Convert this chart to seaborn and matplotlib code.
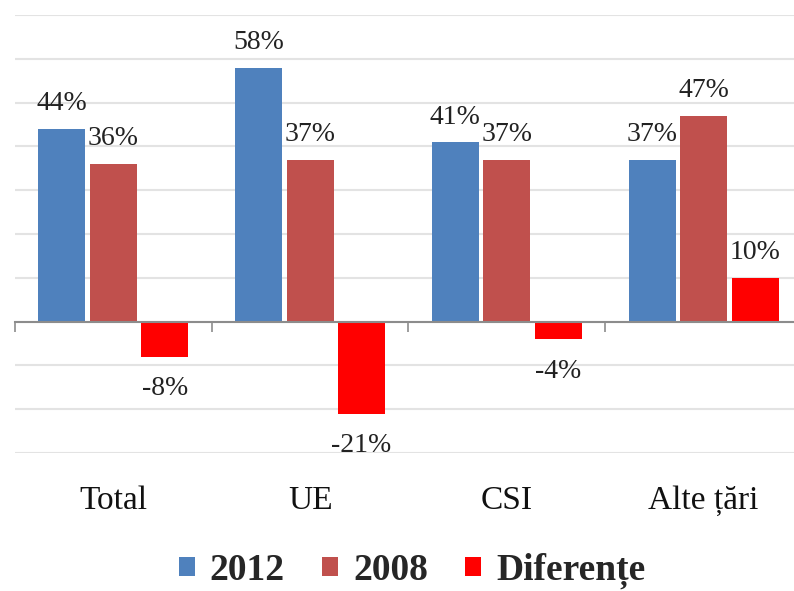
import matplotlib
matplotlib.use("Agg")
import matplotlib.pyplot as plt
import seaborn as sns
import pandas as pd
from matplotlib.ticker import MultipleLocator, FixedLocator

categories = ["Total", "UE", "CSI", "Alte țări"]
series_names = ["2012", "2008", "Diferențe"]
values_2012 = [44, 58, 41, 37]
values_2008 = [36, 37, 37, 47]
values_diff = [-8, -21, -4, 10]
colors = {"2012": "#4F81BD", "2008": "#C0504D", "Diferențe": "#FF0000"}

rows = []
for name, vals in zip(series_names, [values_2012, values_2008, values_diff]):
    for c, v in zip(categories, vals):
        rows.append({"cat": c, "series": name, "val": v})
df = pd.DataFrame(rows)

sns.set_theme(style="white")
plt.rcParams["font.family"] = ["Liberation Serif", "DejaVu Serif"]

fig = plt.figure(figsize=(7.94, 5.91), dpi=100)
ax = fig.add_axes([15 / 794, (591 - 453) / 591, 787 / 794, 438 / 591])

sns.barplot(data=df, x="cat", y="val", hue="series", order=categories,
            hue_order=series_names, palette=colors, width=0.785, gap=0.09,
            saturation=1, ax=ax, edgecolor="none", linewidth=0)

for cont in ax.containers:
    vals = [b.get_height() for b in cont]
    pos_labels = [f"{v:.0f}%" if v >= 0 else "" for v in vals]
    neg_labels = [f"{v:.0f}%" if v < 0 else "" for v in vals]
    ax.bar_label(cont, labels=pos_labels, padding=9, fontsize=20, color="#222222")
    ax.bar_label(cont, labels=neg_labels, padding=14, fontsize=20, color="#222222")

ax.set_ylim(-30, 70)
ax.set_xlim(-0.5, 3.5)
ax.yaxis.set_major_locator(MultipleLocator(10))
ax.grid(axis="y", color="#E3E3E3", linewidth=1.5)
ax.set_axisbelow(True)
ax.set_yticklabels([])
ax.tick_params(axis="y", length=0)
ax.set_xlabel("")
ax.set_ylabel("")

for s in ["top", "right", "left"]:
    ax.spines[s].set_visible(False)
ax.spines["bottom"].set_position(("data", 0))
ax.spines["bottom"].set_color("#8C8C8C")
ax.spines["bottom"].set_linewidth(1.5)
ax.spines["bottom"].set_zorder(3)

ax.xaxis.set_minor_locator(FixedLocator([-0.5, 0.5, 1.5, 2.5, 3.5]))
ax.tick_params(axis="x", which="minor", length=7, width=1.2, color="#8C8C8C", direction="out", bottom=True)
ax.tick_params(axis="x", which="major", length=0, pad=118, labelsize=24, labelcolor="#111111")

leg = ax.legend(loc="center", bbox_to_anchor=(412 / 794, 1 - 571 / 591),
                bbox_transform=fig.transFigure, ncol=3, frameon=False,
                prop={"family": ["Liberation Serif", "DejaVu Serif"], "weight": "bold", "size": 27},
                handlelength=0.42, handleheight=0.42, handletextpad=0.4, columnspacing=1.0)

fig.savefig("out.png", dpi=100)
